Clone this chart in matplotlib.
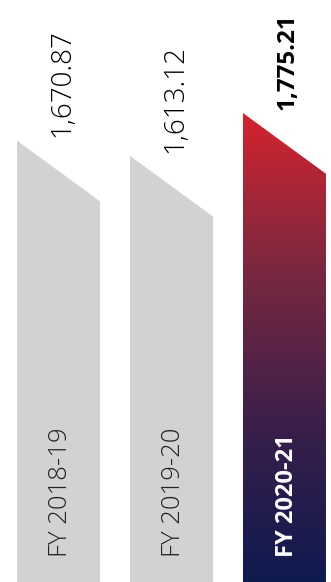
import matplotlib
matplotlib.use("Agg")
import matplotlib.pyplot as plt
import numpy as np
from matplotlib.patches import Polygon
from matplotlib.colors import LinearSegmentedColormap

categories = ["FY 2018-19", "FY 2019-20", "FY 2020-21"]
values = [1670.87, 1613.12, 1775.21]
value_labels = ["1,670.87", "1,613.12", "1,775.21"]
highlight = [False, False, True]

bar_width = 0.735
slant = 230
gray = "#D1D2D4"
grad = LinearSegmentedColormap.from_list("g", ["#0F1A50", "#3A1F4A", "#7A2840", "#D4232E"])

fig = plt.figure(figsize=(3.31, 5.82), dpi=100)
ax = fig.add_axes([0, 0, 1, 1])
ax.set_xlim(-0.518, 2.412)
ax.set_ylim(0, 2203)
ax.axis("off")

font = "Open Sans"
for i, (cat, v, lab, hl) in enumerate(zip(categories, values, value_labels, highlight)):
    x0, x1 = i - bar_width / 2, i + bar_width / 2
    poly = Polygon([(x0, 0), (x0, v), (x1, v - slant), (x1, 0)], closed=True,
                   facecolor=gray if not hl else "none", edgecolor="none")
    ax.add_patch(poly)
    if hl:
        g = np.linspace(0, 1, 256).reshape(-1, 1)
        im = ax.imshow(g, cmap=grad, origin="lower", extent=(x0, x1, 0, v),
                       aspect="auto", interpolation="bicubic")
        im.set_clip_path(poly)
    ax.text(i + 0.03, v + 12, lab, rotation=90, ha="center", va="bottom",
            fontsize=17.5 if hl else 20, family=font,
            fontweight="bold" if hl else "light", color="black")
    ax.text(i + 0.02, 95, cat, rotation=90, ha="center", va="bottom",
            fontsize=17 if hl else 18.5, family=font,
            fontweight="bold" if hl else "light",
            color="white" if hl else "#222222")

fig.savefig("out.png", dpi=100)
